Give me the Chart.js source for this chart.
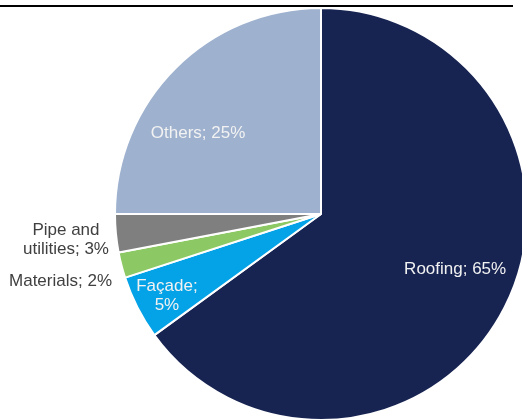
<!DOCTYPE html>
<html>
<head>
<meta charset="utf-8">
<script src="https://cdn.jsdelivr.net/npm/chart.js@4/dist/chart.umd.min.js"></script>
<style>
  html, body { margin: 0; padding: 0; background: #ffffff; overflow: hidden; width: 522px; height: 419px; }
  #rule { position: absolute; left: 0; top: 5px; width: 513px; height: 2px; background: #000000; }
  #wrap { position: absolute; left: 0; top: 0; width: 642px; height: 428px; }
</style>
</head>
<body>
<div id="wrap"><canvas id="c" width="642" height="428"></canvas></div>
<div id="rule"></div>
<script>
// ---- data ----
const categories = ["Roofing", "Façade", "Materials", "Pipe and utilities", "Others"];
const shares = [65, 5, 2, 3, 25];
const labelLines = [["Roofing; 65%"], ["Façade;", "5%"], ["Materials; 2%"], ["Pipe and", "utilities; 3%"], ["Others; 25%"]];

// ---- styles / placement ----
const sliceColors = ["#172452", "#04A2E6", "#8CC863", "#7F7F7F", "#9EB1CE"];
const labelColors = ["#F2F2F2", "#F2F2F2", "#404040", "#404040", "#F2F2F2"];
// polar placement of each label relative to the pie centre: [degrees clockwise from top, distance px, align]
const labelPlacement = [[112.3, 145, "center"], [242, 174.5, "center"], [252.2, 219.5, "right"], [264.3, 256.3, "center"], [303.4, 147.3, "center"]];

const labelPlugin = {
  id: "sliceLabels",
  afterDatasetsDraw(chart) {
    const ctx = chart.ctx;
    const meta = chart.getDatasetMeta(0);
    ctx.save();
    ctx.font = '17px "Liberation Sans", Arial, sans-serif';
    ctx.textBaseline = "middle";
    meta.data.forEach((arc, i) => {
      const [deg, dist, align] = labelPlacement[i];
      const a = deg * Math.PI / 180;
      const cx = arc.x + dist * Math.sin(a);
      const cy = arc.y - dist * Math.cos(a);
      const lines = labelLines[i];
      const lh = 19;
      ctx.fillStyle = labelColors[i];
      ctx.textAlign = align;
      lines.forEach((t, k) => {
        ctx.fillText(t, cx, cy + (k - (lines.length - 1) / 2) * lh);
      });
    });
    ctx.restore();
  }
};

new Chart(document.getElementById("c"), {
  type: "pie",
  data: {
    labels: categories,
    datasets: [{
      data: shares,
      backgroundColor: sliceColors,
      borderColor: "#ffffff",
      borderWidth: 2,
      radius: 206
    }]
  },
  options: {
    responsive: false,
    animation: false,
    layout: { padding: 0 },
    plugins: { legend: { display: false }, tooltip: { enabled: false } }
  },
  plugins: [labelPlugin]
});
</script>
</body>
</html>
